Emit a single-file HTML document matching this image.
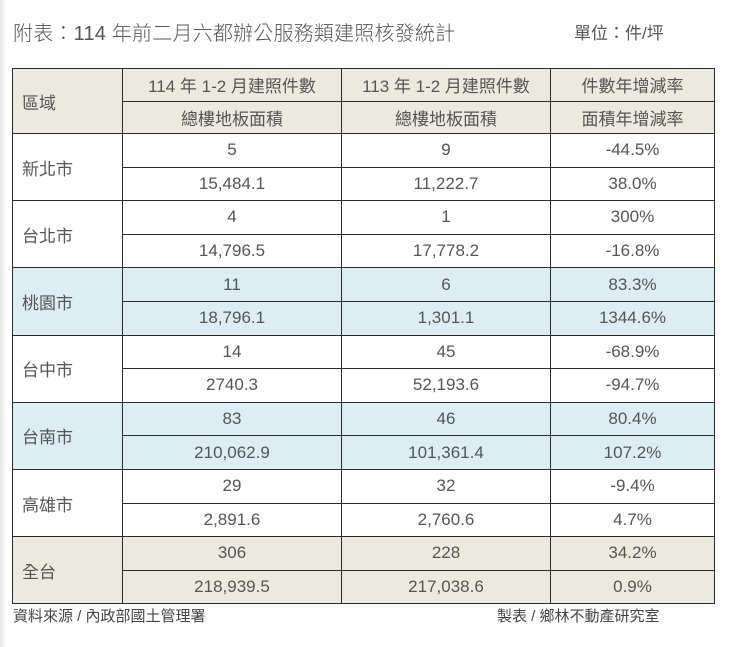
<!DOCTYPE html>
<html><head><meta charset="utf-8"><style>
body{margin:0;width:755px;height:647px;background:#fff;overflow:hidden;font-family:"Liberation Sans","Noto Sans CJK TC",sans-serif;color:#3a3a3a;position:relative}
.bgstrip{position:absolute;left:0;top:0;width:6px;height:647px;background:linear-gradient(to right,#e6e6e6,#fff)}
#title{position:absolute;left:13px;top:17px;font-size:20px;font-weight:300;color:#555;letter-spacing:0.2px}
#unit{position:absolute;left:574px;top:19px;font-size:17px;color:#555}
table{position:absolute;left:12px;top:68px;border-collapse:collapse;table-layout:fixed}
td{border:1.5px solid #2a2a2a;font-size:17px;text-align:center;padding:0;height:32.6px;color:#555}
tr.hd1 td,tr.hd2 td{height:31.5px}
td.reg{text-align:left;padding-left:9px}
.hd td,.hd1 td,.hd2 td{background:#ece9df}
.bl td{background:#dcedf3}
#src{position:absolute;left:13px;top:605px;font-size:15px;color:#444}
#maker{position:absolute;left:497px;top:605px;font-size:15px;color:#444}
</style></head><body>
<div class="bgstrip"></div>
<div id="title">附表：114 年前二月六都辦公服務類建照核發統計</div>
<div id="unit">單位：件/坪</div>
<table>
<colgroup><col style="width:110px"><col style="width:219px"><col style="width:209px"><col style="width:164px"></colgroup>
<tr class="hd1"><td class="reg" rowspan="2">區域</td><td>114 年 1-2 月建照件數</td><td>113 年 1-2 月建照件數</td><td>件數年增減率</td></tr>
<tr class="hd2"><td>總樓地板面積</td><td>總樓地板面積</td><td>面積年增減率</td></tr>
<tr><td class="reg" rowspan="2">新北市</td><td>5</td><td>9</td><td>-44.5%</td></tr>
<tr><td>15,484.1</td><td>11,222.7</td><td>38.0%</td></tr>
<tr><td class="reg" rowspan="2">台北市</td><td>4</td><td>1</td><td>300%</td></tr>
<tr><td>14,796.5</td><td>17,778.2</td><td>-16.8%</td></tr>
<tr class="bl"><td class="reg" rowspan="2">桃園市</td><td>11</td><td>6</td><td>83.3%</td></tr>
<tr class="bl"><td>18,796.1</td><td>1,301.1</td><td>1344.6%</td></tr>
<tr><td class="reg" rowspan="2">台中市</td><td>14</td><td>45</td><td>-68.9%</td></tr>
<tr><td>2740.3</td><td>52,193.6</td><td>-94.7%</td></tr>
<tr class="bl"><td class="reg" rowspan="2">台南市</td><td>83</td><td>46</td><td>80.4%</td></tr>
<tr class="bl"><td>210,062.9</td><td>101,361.4</td><td>107.2%</td></tr>
<tr><td class="reg" rowspan="2">高雄市</td><td>29</td><td>32</td><td>-9.4%</td></tr>
<tr><td>2,891.6</td><td>2,760.6</td><td>4.7%</td></tr>
<tr class="hd"><td class="reg" rowspan="2">全台</td><td>306</td><td>228</td><td>34.2%</td></tr>
<tr class="hd"><td>218,939.5</td><td>217,038.6</td><td>0.9%</td></tr>
</table>
<div id="src">資料來源 / 內政部國土管理署</div>
<div id="maker">製表 / 鄉林不動產研究室</div>
</body></html>
